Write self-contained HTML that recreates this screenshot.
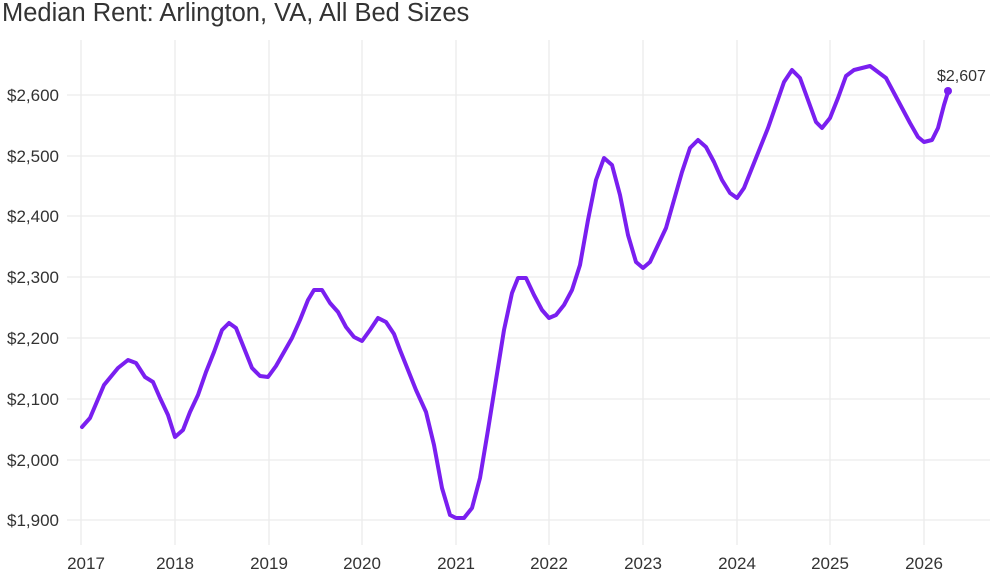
<!DOCTYPE html>
<html><head><style>
body{margin:0;background:#fff;font-family:"Liberation Sans",sans-serif;}
</style></head><body>
<svg width="1000" height="573" xmlns="http://www.w3.org/2000/svg" font-family="Liberation Sans, sans-serif">
<rect width="1000" height="573" fill="#fff"/>
<text x="2" y="21" font-size="25.5" fill="#333">Median Rent: Arlington, VA, All Bed Sizes</text>
<g stroke="#ececec" stroke-width="1.3">
<line x1="67" x2="990" y1="95" y2="95"/><line x1="67" x2="990" y1="156" y2="156"/>
<line x1="67" x2="990" y1="216" y2="216"/><line x1="67" x2="990" y1="277" y2="277"/>
<line x1="67" x2="990" y1="338" y2="338"/><line x1="67" x2="990" y1="399" y2="399"/>
<line x1="67" x2="990" y1="460" y2="460"/><line x1="67" x2="990" y1="520" y2="520"/>
<line x1="81" x2="81" y1="40" y2="545"/><line x1="175" x2="175" y1="40" y2="545"/>
<line x1="269" x2="269" y1="40" y2="545"/><line x1="362" x2="362" y1="40" y2="545"/>
<line x1="456" x2="456" y1="40" y2="545"/><line x1="549" x2="549" y1="40" y2="545"/>
<line x1="643" x2="643" y1="40" y2="545"/><line x1="737" x2="737" y1="40" y2="545"/>
<line x1="830" x2="830" y1="40" y2="545"/><line x1="924" x2="924" y1="40" y2="545"/>
</g>
<g font-size="17" fill="#333" text-anchor="end">
<text x="59" y="101">$2,600</text><text x="59" y="162">$2,500</text>
<text x="59" y="222">$2,400</text><text x="59" y="283">$2,300</text>
<text x="59" y="344">$2,200</text><text x="59" y="405">$2,100</text>
<text x="59" y="466">$2,000</text><text x="59" y="526">$1,900</text>
</g>
<g font-size="17" fill="#333" text-anchor="middle">
<text x="86" y="569">2017</text><text x="175" y="569">2018</text><text x="269" y="569">2019</text>
<text x="362" y="569">2020</text><text x="456" y="569">2021</text><text x="549" y="569">2022</text>
<text x="643" y="569">2023</text><text x="737" y="569">2024</text><text x="830" y="569">2025</text>
<text x="924" y="569">2026</text>
</g>
<polyline fill="none" stroke="#7a1ff0" stroke-width="4" stroke-linejoin="round" stroke-linecap="round" points="82,427 90,418 104,385 118,368 128,360 136,363 145,377 153,382 160,398 168,415 175,437 183,430 190,412 198,395 206,372 214,352 222,330 229,323 236,328 244,348 252,368 260,376 268,377 276,366 284,352 292,338 300,320 308,300 314,290 322,290 330,303 338,312 346,327 354,337 362,341 370,330 378,318 386,322 394,334 400,350 408,370 416,390 426,412 434,445 442,488 450,515 456,518 464,518 472,508 480,478 488,430 496,380 504,330 512,293 518,278 526,278 534,295 542,310 549,318 556,315 564,305 572,290 580,265 588,220 596,180 604,158 612,165 620,195 628,235 636,262 643,268 650,262 658,245 666,228 674,200 682,172 690,148 698,140 706,147 714,162 722,180 730,193 737,198 744,188 752,168 760,148 768,128 776,105 784,82 792,70 800,78 808,100 816,122 822,128 830,118 838,98 846,76 854,70 862,68 870,66 878,72 886,78 894,93 902,108 910,123 918,137 924,142 932,140 938,128 944,105 948,92"/>
<circle cx="948" cy="91" r="4" fill="#7a1ff0"/>
<text x="937" y="81" font-size="16" fill="#333">$2,607</text>
</svg>
</body></html>
